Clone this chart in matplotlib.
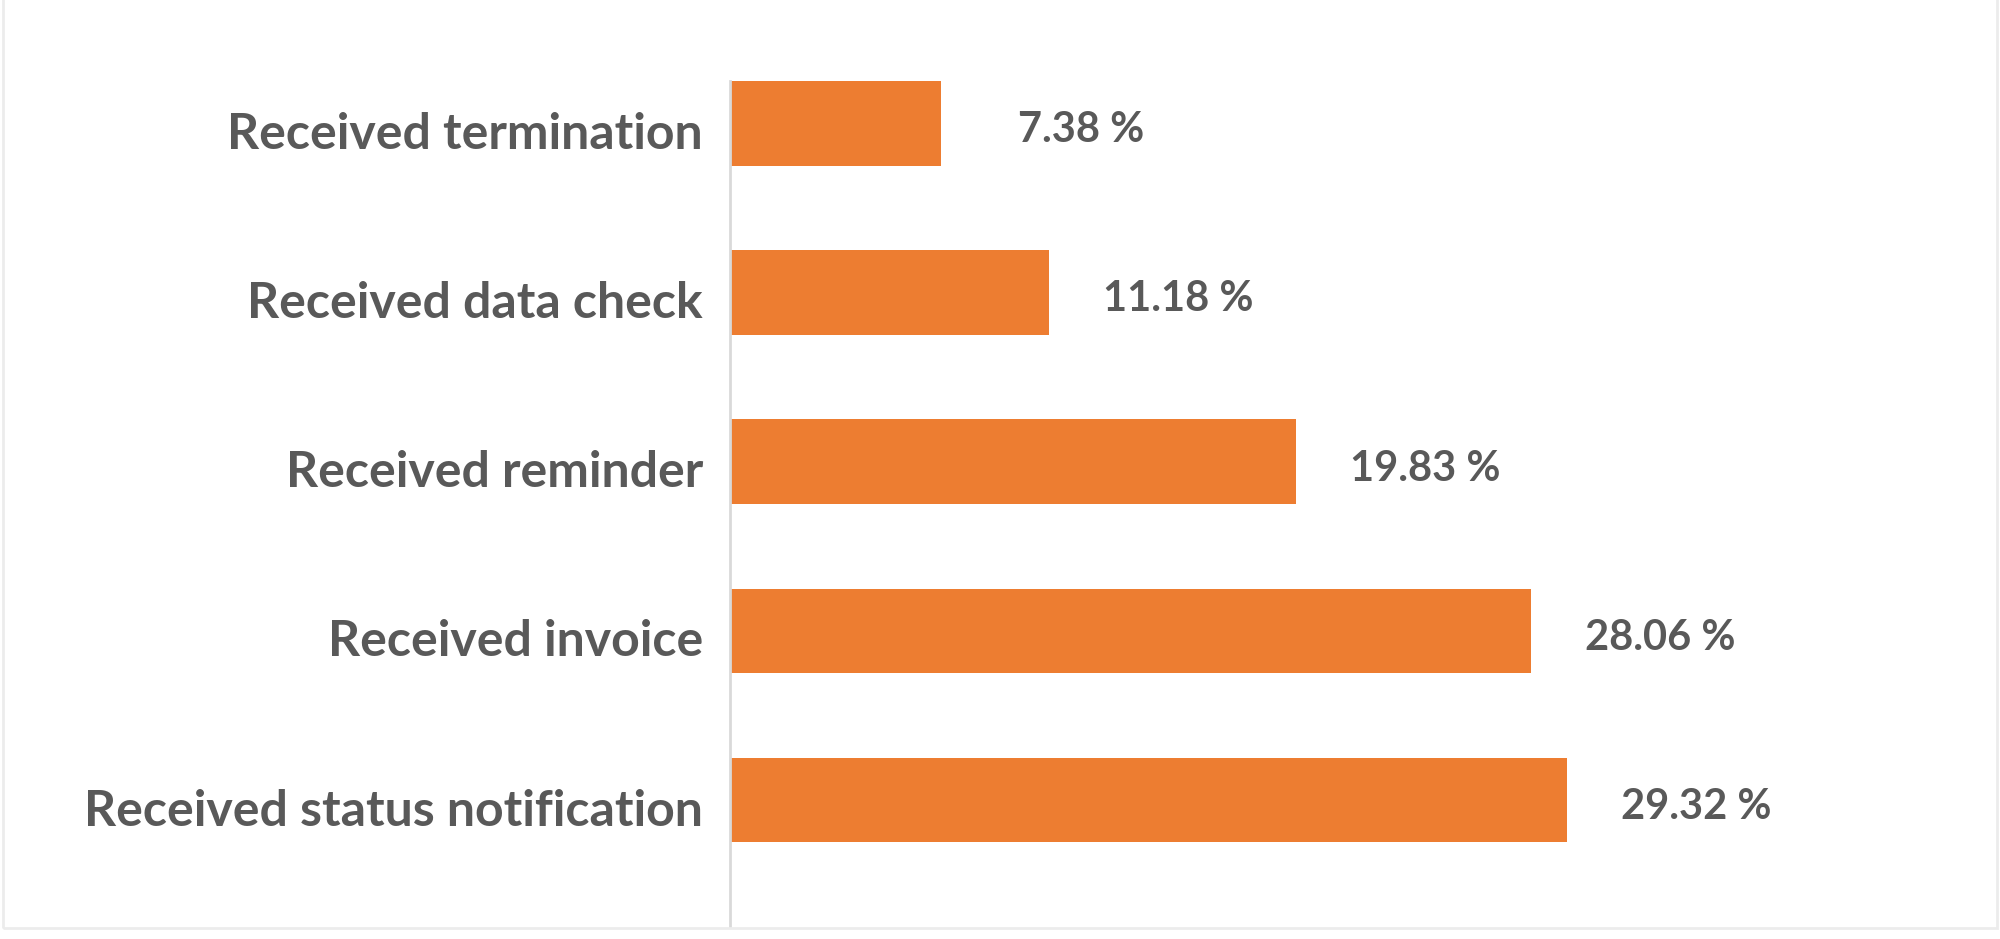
import matplotlib
matplotlib.use("Agg")
import matplotlib.pyplot as plt
from matplotlib.patches import Rectangle
from matplotlib.transforms import ScaledTranslation

categories = ["Received termination", "Received data check", "Received reminder",
              "Received invoice", "Received status notification"]
values = [7.38, 11.18, 19.83, 28.06, 29.32]
labels = ["7.38 %", "11.18 %", "19.83 %", "28.06 %", "29.32 %"]

BAR = "#ED7D31"
TXT = "#595959"
FONT = ["Lato", "DejaVu Sans"]

W, H, DPI = 2000, 939, 100
fig = plt.figure(figsize=(W / DPI, H / DPI), dpi=DPI)
fig.patch.set_facecolor("white")

# faint chart border
fig.add_artist(Rectangle((3 / W, 1 - 928 / H), 1994 / W, 928 / H + 0.01,
                         transform=fig.transFigure, fill=False,
                         edgecolor="#ececec", linewidth=2))

ax = fig.add_axes([730 / W, 1 - 927 / H, 1260 / W, 846 / H])
pos = list(range(len(categories)))
ax.barh(pos, values, height=0.5, color=BAR, edgecolor="none")
ax.set_ylim(4.75, -0.25)
ax.set_xlim(0, 1260 / 28.55)

ax.set_yticks(pos)
ax.set_yticklabels(categories, fontsize=36, fontweight="bold", color=TXT, family=FONT)
ax.tick_params(axis="y", length=0, pad=27 * 72 / DPI)
shift = ScaledTranslation(0, -7 / DPI, fig.dpi_scale_trans)
for t in ax.get_yticklabels():
    t.set_transform(t.get_transform() + shift)
ax.set_xticks([])
for s in ["top", "right", "bottom"]:
    ax.spines[s].set_visible(False)
ax.spines["left"].set_color("#d9d9d9")
ax.spines["left"].set_linewidth(2)

for p, v, lab in zip(pos, values, labels):
    ax.annotate(lab, xy=(v, p), xytext=(204 * 72 / DPI, -7 * 72 / DPI),
                textcoords="offset points",
                ha="right", va="center", fontsize=30, fontweight="bold",
                color=TXT, family=FONT)

fig.savefig("out.png", dpi=DPI, facecolor="white")
